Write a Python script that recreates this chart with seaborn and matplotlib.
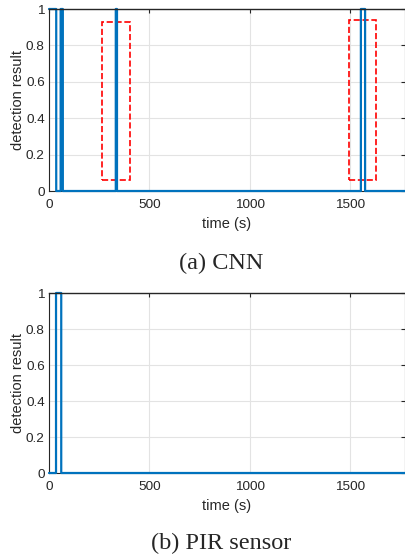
import numpy as np
import matplotlib
matplotlib.use("Agg")
import matplotlib.pyplot as plt
import matplotlib.patches as mpatches
import seaborn as sns

# pulse intervals (start, end) in seconds where detection result = 1
cnn_pulses = [(0, 35), (58, 68), (333, 338), (1555, 1575)]
pir_pulses = [(35, 60)]
t_max = 1775
# highlighted regions (t0, t1, y0, y1)
cnn_boxes = [(265, 405, 0.06, 0.93), (1495, 1630, 0.06, 0.94)]
xticks = [0, 500, 1000, 1500]
yticks = [0, 0.2, 0.4, 0.6, 0.8, 1]
ytick_labels = ["0", "0.2", "0.4", "0.6", "0.8", "1"]
captions = ["(a) CNN", "(b) PIR sensor"]

sns.set_style("white")
plt.rcParams["font.family"] = ["Liberation Sans", "DejaVu Sans"]


def signal(pulses):
    t = np.arange(0, t_max + 1)
    y = np.zeros_like(t, dtype=float)
    for a, b in pulses:
        y[(t >= a) & (t <= b)] = 1
    return t, y


fig = plt.figure(figsize=(4.06, 5.6), dpi=100)
ax1 = fig.add_axes([49 / 406, 1 - 191 / 560, 356 / 406, 182 / 560])
ax2 = fig.add_axes([49 / 406, 1 - 473 / 560, 356 / 406, 180 / 560])

for ax, pulses in [(ax1, cnn_pulses), (ax2, pir_pulses)]:
    t, y = signal(pulses)
    sns.lineplot(x=t, y=y, ax=ax, color="#0072BD", linewidth=1.6,
                 estimator=None, drawstyle="steps-post", zorder=3, clip_on=False)
    ax.set_xlim(0, t_max)
    ax.set_ylim(0, 1)
    ax.set_xticks(xticks)
    ax.set_yticks(yticks)
    ax.set_yticklabels(ytick_labels)
    ax.grid(True, color="#e3e3e3", linewidth=0.8)
    ax.set_axisbelow(True)
    ax.tick_params(direction="in", length=3, labelsize=9.7, colors="#262626",
                   top=True, right=True, pad=3)
    ax.tick_params(axis="x", pad=6)
    for s in ax.spines.values():
        s.set_color("#262626")
        s.set_linewidth(0.8)
    # black box edge drawn over the pulse tops, as in the reference
    ax.spines["top"].set_zorder(4)
    ax.spines["top"].set_linewidth(1.0)
    ax.set_xlabel("time (s)", fontsize=10.5, color="#262626", labelpad=4)
    ax.set_ylabel("detection result", fontsize=10.5, color="#262626", labelpad=1)

for t0, t1, y0, y1 in cnn_boxes:
    ax1.add_patch(mpatches.Rectangle((t0, y0), t1 - t0, y1 - y0, fill=False,
                                     edgecolor="red", linestyle="--", linewidth=1.2,
                                     zorder=1))

fig.text(221 / 406, 1 - 263 / 560, captions[0], ha="center", va="center",
         fontsize=17.5, family="Liberation Serif")
fig.text(221 / 406, 1 - 543 / 560, captions[1], ha="center", va="center",
         fontsize=17.5, family="Liberation Serif")

fig.savefig("out.png", dpi=100)
